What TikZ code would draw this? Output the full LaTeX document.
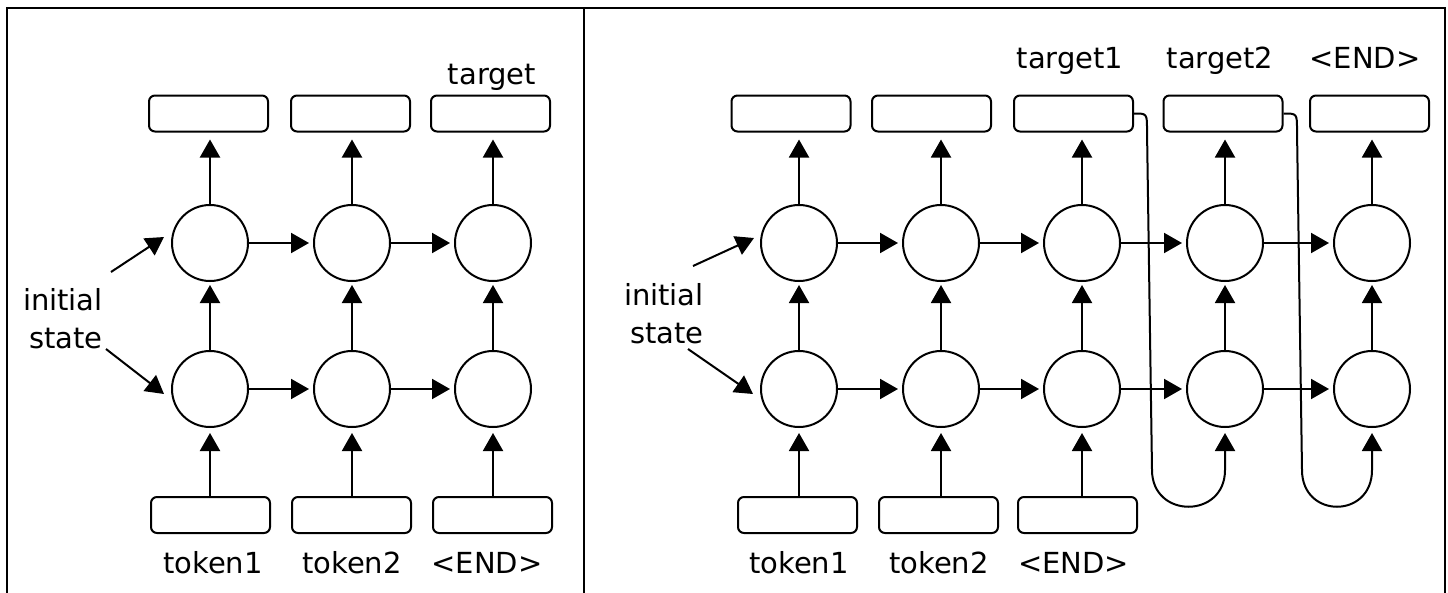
\documentclass[tikz,border=0pt]{standalone}
\usepackage{fontspec}
\setmainfont{DejaVu Sans}
\usetikzlibrary{arrows.meta,calc}
\begin{document}
\begin{tikzpicture}[x=1pt,y=-1pt,
  lw/.style={line width=2pt},
  cell/.style={circle,draw,line width=2pt,minimum size=76pt,inner sep=0pt},
  box/.style={draw,line width=2pt,rounded corners=6pt,minimum width=119pt,minimum height=36pt,inner sep=0pt},
  arr/.style={line width=2pt,-{Triangle[width=20pt,length=18pt]}},
  lbl/.style={font=\fontsize{29}{38}\selectfont,anchor=base,inner sep=0pt},
  initlbl/.style={font=\fontsize{29}{38}\selectfont,align=right,anchor=east,inner sep=0pt},
]
\useasboundingbox (0,0) rectangle (1448,592);
% frame
\draw[lw] (7,600) -- (7,8) -- (1445,8) -- (1445,600);
\draw[lw] (583.5,8) -- (583.5,600);

% ---------- left panel ----------
\foreach \i/\x in {1/210,2/352,3/493}{
  \node[cell] (lt\i) at (\x,243) {};
  \node[cell] (lb\i) at (\x,389) {};
}
\node[box] (lo1) at (208.5,113.5) {};
\node[box] (lo2) at (350.5,113.5) {};
\node[box] (lo3) at (490.5,113.5) {};
\node[box] (li1) at (210.5,515) {};
\node[box] (li2) at (351.5,515) {};
\node[box] (li3) at (492.5,515) {};
\node[lbl] (lo3t) at (492,84) {target};
\node[lbl] (li1t) at (213,573) {token1};
\node[lbl] (li2t) at (352,573) {token2};
\node[lbl] (li3t) at (487,573) {<END>};
\foreach \i in {1,2,3}{
  \draw[arr,shorten >=7pt] (lt\i.north) -- (lt\i.north |- lo\i.south);
  \draw[arr,shorten >=3pt] (lb\i.north) -- (lt\i.south);
  \draw[arr,shorten >=5pt] (lb\i.south |- li\i.north) -- (lb\i.south);
}
\draw[arr,shorten >=4pt] (lt1.east) -- (lt2.west);
\draw[arr,shorten >=4pt] (lt2.east) -- (lt3.west);
\draw[arr,shorten >=4pt] (lb1.east) -- (lb2.west);
\draw[arr,shorten >=4pt] (lb2.east) -- (lb3.west);
\node[initlbl] (linit) at (103,319) {initial\\state};
\draw[arr] ($(linit.east)+(8,-47)$) -- ($(lt1.west)+(-7,-6)$);
\draw[arr] ($(linit.east)+(3,30)$) -- ($(lb1.west)+(-7,5)$);

% ---------- right panel ----------
\foreach \i/\x in {1/799,2/941,3/1082,4/1225,5/1372}{
  \node[cell] (rt\i) at (\x,243) {};
  \node[cell] (rb\i) at (\x,389) {};
}
\node[box] (ro1) at (791,113.5) {};
\node[box] (ro2) at (931.5,113.5) {};
\node[box] (ro3) at (1073.5,113.5) {};
\node[box] (ro4) at (1223,113.5) {};
\node[box] (ro5) at (1369.5,113.5) {};
\node[box] (ri1) at (797.5,515) {};
\node[box] (ri2) at (938.5,515) {};
\node[box] (ri3) at (1077.5,515) {};
\node[lbl] (ro3t) at (1070,68) {target1};
\node[lbl] (ro4t) at (1220,68) {target2};
\node[lbl] (ro5t) at (1365,68) {<END>};
\node[lbl] (ri1t) at (799,573) {token1};
\node[lbl] (ri2t) at (939,573) {token2};
\node[lbl] (ri3t) at (1073.5,573) {<END>};
\foreach \i in {1,2,3,4,5}{
  \draw[arr,shorten >=7pt] (rt\i.north) -- (rt\i.north |- ro\i.south);
  \draw[arr,shorten >=3pt] (rb\i.north) -- (rt\i.south);
}
\foreach \i in {1,2,3}{
  \draw[arr,shorten >=5pt] (rb\i.south |- ri\i.north) -- (rb\i.south);
}
\foreach \i/\j in {1/2,2/3,3/4,4/5}{
  \draw[arr,shorten >=4pt] (rt\i.east) -- (rt\j.west);
  \draw[arr,shorten >=4pt] (rb\i.east) -- (rb\j.west);
}
\node[initlbl] (rinit) at (704,314) {initial\\state};
\draw[arr] ($(rinit.east)+(-11,-48)$) -- ($(rt1.west)+(-6,-5)$);
\draw[arr] ($(rinit.east)+(-16,35)$) -- ($(rb1.west)+(-7,5)$);
% feedback connectors
\draw[arr,shorten >=5pt] (ro3.east) .. controls (1147,113.5) .. (1147,130)
  -- (1152,470) .. controls (1152,519) and (1225,519) .. (1225,470) -- (rb4.south);
\draw[arr,shorten >=5pt] (ro4.east) .. controls (1297,113.5) .. (1297,130)
  -- (1302,470) .. controls (1302,519) and (1372,519) .. (1372,470) -- (rb5.south);
\end{tikzpicture}
\end{document}
